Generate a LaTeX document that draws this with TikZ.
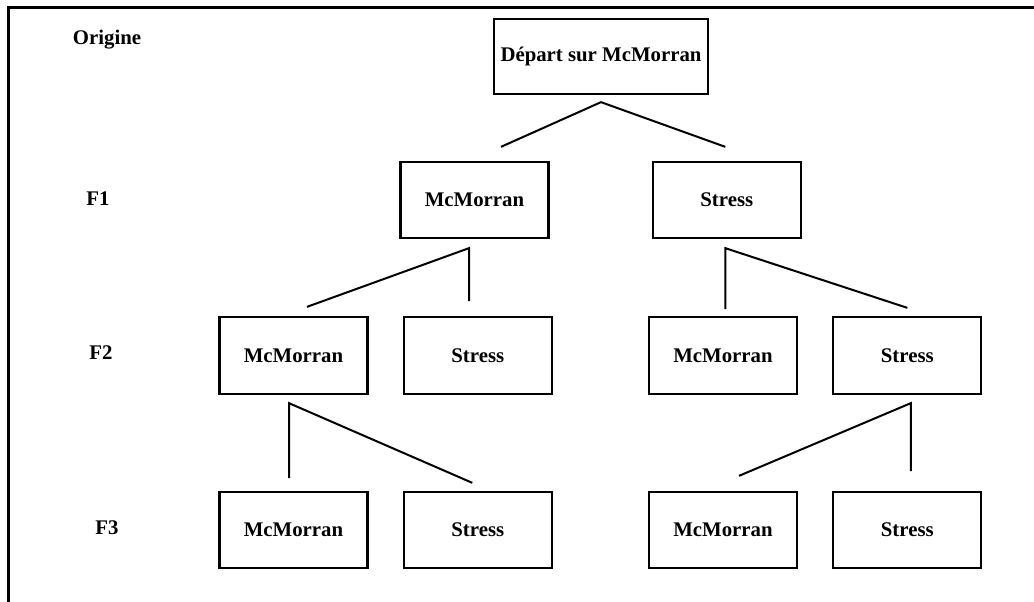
\documentclass[tikz,border=0pt]{standalone}
\usepackage{fontspec}
\setmainfont{Liberation Serif}
\usetikzlibrary{positioning}
\tikzstyle{box} = [draw, line width=2.3pt, minimum width=148pt, minimum height=77pt, inner sep=0pt, font=\bfseries\fontsize{20.8}{25}\selectfont]
\tikzstyle{level} = [font=\bfseries\fontsize{20.8}{25}\selectfont]
\tikzstyle{link} = [line width=2pt]

\begin{document}
\begin{tikzpicture}[x=1pt, y=-1pt, node distance=34pt]
    \useasboundingbox (0,0) rectangle (1034,602);
    \draw [line width=3pt] (8.5,602) -- (8.5,8) -- (1034,8);

    % row labels
    \node (origine) [level] at (107,40) {Origine};
    \node (lf1) [level] at (98,199) {F1};
    \node (lf2) [level] at (101,353) {F2};
    \node (lf3) [level] at (107,528) {F3};

    \node (root) [box, minimum width=214pt, minimum height=75pt] at (601,56.5) {Départ sur McMorran};

    \node (mc1) [box, minimum height=76pt] at (474.5,200) {McMorran};
    \node (st1) [box, minimum height=76pt, right=102pt of mc1] {Stress};
    {
      \coordinate (r0) at ([yshift=-7pt]root.south);
      \coordinate (rl) at ([xshift=26.5pt, yshift=14pt]mc1.north);
      \coordinate (rr) at ([xshift=-1.5pt, yshift=14pt]st1.north);
      \draw [link] (rl) -- (r0) -- (rr);
    }

    \node (mc2a) [box] at (293.5,355.5) {McMorran};
    \node (st2a) [box, right=of mc2a] {Stress};
    \node (mc2b) [box] at (723,355.5) {McMorran};
    \node (st2b) [box, right=of mc2b] {Stress};
    {
      \coordinate (a1) at ([xshift=-5.5pt, yshift=-9pt]mc1.south);
      \coordinate (a1l) at ([xshift=13.5pt, yshift=9pt]mc2a.north);
      \coordinate (a1v) at ([yshift=-53pt]a1);
      \draw [link] (a1l) -- (a1) -- (a1v);
      \coordinate (b1) at ([xshift=-1.5pt, yshift=-9pt]st1.south);
      \coordinate (b1v) at ([yshift=-61pt]b1);
      \coordinate (b1r) at ([yshift=8pt]st2b.north);
      \draw [link] (b1v) -- (b1) -- (b1r);
    }

    \node (mc3a) [box, minimum height=76pt] at (293.5,530) {McMorran};
    \node (st3a) [box, minimum height=76pt, right=of mc3a] {Stress};
    \node (mc3b) [box, minimum height=76pt] at (723,530) {McMorran};
    \node (st3b) [box, minimum height=76pt, right=of mc3b] {Stress};
    {
      \coordinate (a2) at ([xshift=-4.5pt, yshift=-8pt]mc2a.south);
      \coordinate (a2v) at ([yshift=-75pt]a2);
      \coordinate (a2r) at ([xshift=-5.5pt, yshift=8pt]st3a.north);
      \draw [link] (a2v) -- (a2) -- (a2r);
      \coordinate (b2) at ([xshift=3.5pt, yshift=-8pt]st2b.south);
      \coordinate (b2l) at ([xshift=16pt, yshift=15pt]mc3b.north);
      \coordinate (b2v) at ([yshift=-68pt]b2);
      \draw [link] (b2l) -- (b2) -- (b2v);
    }

  \end{tikzpicture}
\end{document}
